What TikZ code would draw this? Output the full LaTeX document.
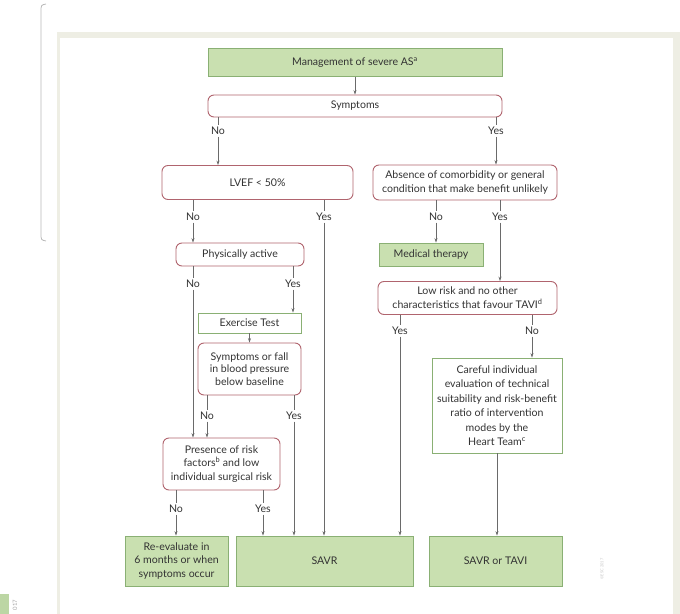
\documentclass[tikz,border=0pt]{standalone}
\usepackage{fontspec}
\setmainfont{Lato}
\usetikzlibrary{arrows.meta}
\definecolor{gfill}{HTML}{C9E0B0}
\definecolor{gline}{HTML}{8AB074}
\definecolor{rline}{HTML}{B0646E}
\definecolor{txt}{HTML}{333333}
\definecolor{cline}{HTML}{6A6A6A}
\definecolor{beige}{HTML}{EEEEE4}
\tikzset{
  every node/.style={font=\fontsize{10.6}{13.8}\selectfont, text=txt},
  greenbox/.style={draw=gline, fill=gfill, line width=0.9pt, inner sep=1pt, align=center},
  whitegreen/.style={draw=gline, fill=white, line width=0.9pt, inner sep=1pt, align=center},
  decision/.style={draw=rline, fill=white, line width=0.9pt, rounded corners=6bp, inner sep=1pt, align=center},
  lab/.style={inner sep=1.5pt},
  conn/.style={draw=cline, line width=0.6pt},
  arr/.style={conn, -{Stealth[length=4.5bp,width=3bp]}},
}
\begin{document}
\begin{tikzpicture}[x=1bp,y=-1bp]
\useasboundingbox (0,0) rectangle (680,614);
% panel
\fill[beige] (57,32) rectangle (680,614);
\fill[white] (60,38) rectangle (673,614);
% screenshot remnants at the left
\draw[gray!55, line width=0.8pt] (46,4) .. controls (41,5) .. (41,12) -- (41,233) .. controls (41,240) .. (46,241);
\fill[gfill!80!gline] (0,594) rectangle (9,614);
\node[rotate=90, font=\fontsize{6}{7}\selectfont, text=gray!70] (yr) at (15,605) {017};
\node[rotate=90, font=\fontsize{4}{5}\selectfont, text=gray!45] (esc) at (602,569) {\copyright ESC 2017};

% boxes
\node[greenbox, minimum width=294bp, minimum height=28bp] (mgmt) at (355,62.5) {Management of severe AS\textsuperscript{a}};
\node[decision, minimum width=294bp, minimum height=22bp] (symp) at (355,106) {Symptoms};
\node[decision, minimum width=191bp, minimum height=34bp] (lvef) at (257.5,182.5) {LVEF < 50\%};
\node[decision, minimum width=184bp, minimum height=35bp] (abs) at (465,182.5) {Absence of comorbidity or general\\condition that make benefit unlikely};
\node[decision, minimum width=128bp, minimum height=23bp] (phys) at (240,254.5) {Physically active};
\node[greenbox, minimum width=104bp, minimum height=23bp] (med) at (431,254.5) {Medical therapy};
\node[decision, minimum width=179bp, minimum height=33bp] (low) at (467.5,298) {Low risk and no other\\characteristics that favour TAVI\textsuperscript{d}};
\node[whitegreen, minimum width=103bp, minimum height=20bp] (exer) at (249.5,323) {Exercise Test};
\node[decision, minimum width=103bp, minimum height=52bp, font=\fontsize{10.6}{12.8}\selectfont] (fall) at (249.5,369) {Symptoms or fall\\in blood pressure\\below baseline};
\node[whitegreen, minimum width=130bp, minimum height=95bp, font=\fontsize{10.6}{14.5}\selectfont] (care) at (497,405.5) {Careful individual\\evaluation of technical\\suitability and risk-benefit\\ratio of intervention\\modes by the\\Heart Team\textsuperscript{c}};
\node[decision, minimum width=117bp, minimum height=52bp] (pres) at (221.5,464) {Presence of risk\\factors\textsuperscript{b} and low\\individual surgical risk};
\node[greenbox, minimum width=103bp, minimum height=50bp] (reev) at (176.5,561) {Re-evaluate in\\6 months or when\\symptoms occur};
\node[greenbox, minimum width=177bp, minimum height=50bp] (savr) at (324.5,561) {SAVR};
\node[greenbox, minimum width=133bp, minimum height=50bp] (st) at (495.5,561) {SAVR or TAVI};

% labels
\node[lab] (sn) at (218,131) {No};
\node[lab] (sy) at (496,131) {Yes};
\node[lab] (ln) at (193,217) {No};
\node[lab] (ly) at (324,217) {Yes};
\node[lab] (an) at (436,217) {No};
\node[lab] (ay) at (500,217) {Yes};
\node[lab] (pn) at (193,284) {No};
\node[lab] (py) at (293,284) {Yes};
\node[lab] (ry) at (400,331) {Yes};
\node[lab] (rn) at (532,331) {No};
\node[lab] (fn) at (207,416) {No};
\node[lab] (fy) at (294,416) {Yes};
\node[lab] (en) at (176,509) {No};
\node[lab] (ey) at (263,509) {Yes};

% connectors
\draw[arr] (mgmt) -- (symp);
\foreach \l/\a/\b in {sn/symp/lvef, sy/symp/abs, ln/lvef/phys, ly/lvef/savr, an/abs/med, ay/abs/low,
  pn/phys/pres, py/phys/exer, ry/low/savr, rn/low/care, fn/fall/pres, fy/fall/savr, en/pres/reev, ey/pres/savr}{
  \draw[conn] (\l.north |- \a.south) -- (\l.north);
  \draw[arr] (\l.south) -- (\l.south |- \b.north);
}
\draw[arr] (exer) -- (fall);
\draw[arr] (care.south) -- (care.south |- st.north);
\end{tikzpicture}
\end{document}
